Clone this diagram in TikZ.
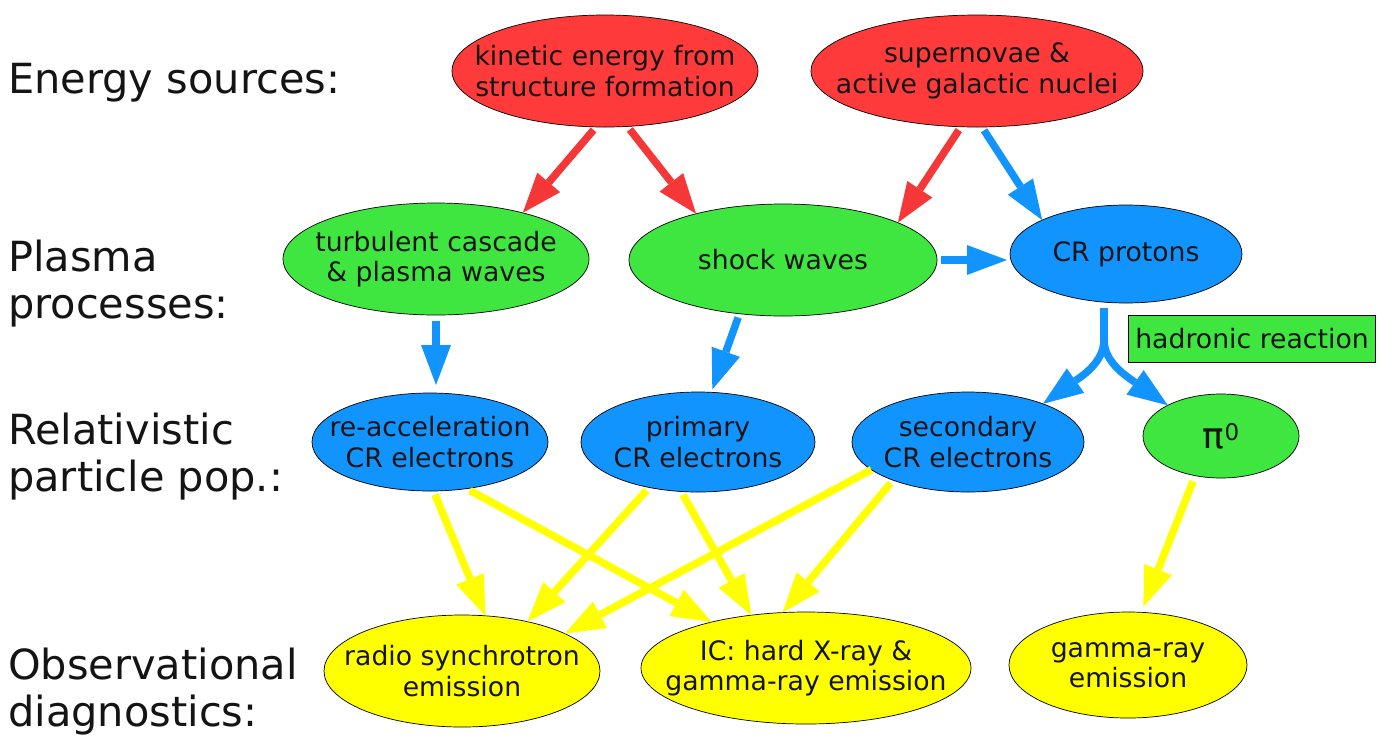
\documentclass[tikz,border=0pt]{standalone}
\usepackage{fontspec}
\setmainfont{DejaVu Sans}
\usetikzlibrary{arrows.meta,shapes.geometric,calc}
\definecolor{cred}{RGB}{255,58,58}
\definecolor{ared}{RGB}{245,55,55}
\definecolor{cgreen}{RGB}{64,230,64}
\definecolor{cblue}{RGB}{18,148,255}
\definecolor{cyel}{RGB}{255,255,0}
\definecolor{txt}{RGB}{20,20,20}
\begin{document}
\begin{tikzpicture}[x=1pt,y=-1pt,
  bub/.style={ellipse, draw=black, line width=0.7pt, inner sep=-200pt, outer sep=0pt,
    align=center, text=txt, font=\fontsize{26.7}{30.5}\selectfont},
  lab/.style={anchor=base west, align=left, inner sep=0pt, text=txt,
    font=\fontsize{41.5}{46.5}\selectfont},
  ar/.style={line width=7.5pt, shorten <=4pt,
    -{Triangle[length=40pt,width=30pt,line width=0pt]}},
  redar/.style={ar, draw=ared},
  bluar/.style={ar, draw=cblue},
  yelar/.style={ar, draw=cyel},
]
\useasboundingbox (0,0) rectangle (1378,740);

% row labels (base anchor = baseline of the last line)
\node[lab] (l1) at (8,93) {Energy sources:};
\node[lab] (l2) at (8,318) {Plasma\\processes:};
\node[lab] (l3) at (8,491) {Relativistic\\particle pop.:};
\node[lab] (l4) at (8,726) {Observational\\diagnostics:};

% energy sources
\node[bub, fill=cred, minimum width=306pt, minimum height=112pt] (kin) at (605,71) {kinetic energy from\\structure formation};
\node[bub, fill=cred, minimum width=332pt, minimum height=112pt] (sup) at (977,71) {supernovae \&\\active galactic nuclei};

% plasma processes
\node[bub, fill=cgreen, minimum width=306pt, minimum height=112pt] (turb) at (436,259) {turbulent cascade\\\& plasma waves};
\node[bub, fill=cgreen, minimum width=308pt, minimum height=112pt] (shock) at (783,260) {shock waves};
\node[bub, fill=cblue, minimum width=232pt, minimum height=98pt] (prot) at (1126,254) {CR protons};
\node[draw=black, fill=cgreen, line width=0.7pt, minimum width=247pt, minimum height=47pt,
  inner sep=0pt, text=txt, font=\fontsize{26.7}{30.5}\selectfont] (hadr) at (1252,339) {hadronic reaction};

% relativistic particles
\node[bub, fill=cblue, minimum width=236pt, minimum height=98pt] (reacc) at (430,442) {re-acceleration\\CR electrons};
\node[bub, fill=cblue, minimum width=234pt, minimum height=100pt] (prim) at (698,442) {primary\\CR electrons};
\node[bub, fill=cblue, minimum width=232pt, minimum height=100pt] (sec) at (968,442) {secondary\\CR electrons};
\node[bub, fill=cgreen, minimum width=156pt, minimum height=84pt] (pion) at (1221,436)
  {\fontsize{36}{36}\selectfont π\raisebox{8pt}{\fontsize{23}{23}\selectfont 0}};

% diagnostics
\node[bub, fill=cyel, minimum width=276pt, minimum height=112pt] (radio) at (462,671) {radio synchrotron\\emission};
\node[bub, fill=cyel, minimum width=330pt, minimum height=112pt] (ic) at (806,668) {IC: hard X-ray \&\\gamma-ray emission};
\node[bub, fill=cyel, minimum width=238pt, minimum height=106pt] (gam) at (1128,665) {gamma-ray\\emission};

% red arrows
\draw[redar] (kin.261) -- (turb.28);
\draw[redar] (kin.292) -- (shock.152);
\draw[redar] (sup.254) -- (shock.18);
% blue arrows
\draw[bluar] (sup.275) -- (prot.158);
\draw[bluar, shorten >=3pt] (shock.east) -- (shock.east -| prot.west);
\draw[bluar, shorten <=6pt, shorten >=8pt] (turb.south) -- (turb.south |- reacc.north);
\draw[bluar, shorten >=3pt] (shock.231) -- (prim.75);
% hadronic split
\coordinate (stemtop) at (1104,308);
\coordinate (fork) at (1104,340);
\draw[cblue, line width=7.5pt] (stemtop) -- (fork);
\draw[bluar, shorten <=0pt] (fork) .. controls (1104,362) and (1082,376) .. (sec.27);
\draw[bluar, shorten <=0pt] (fork) .. controls (1104,362) and (1126,376) .. (pion.150);
% yellow arrows
\draw[yelar] (reacc.274) -- (radio.67);
\draw[yelar] (reacc.308) -- (ic.154);
\draw[yelar] (prim.223) -- (radio.37);
\draw[yelar] (prim.251) -- (ic.136);
\draw[yelar, shorten <=0pt] (sec.196) -- (radio.20);
\draw[yelar] (sec.207) -- (ic.113);
\draw[yelar, shorten <=6pt, shorten >=6pt] (pion.237) -- (gam.76);
\end{tikzpicture}
\end{document}
